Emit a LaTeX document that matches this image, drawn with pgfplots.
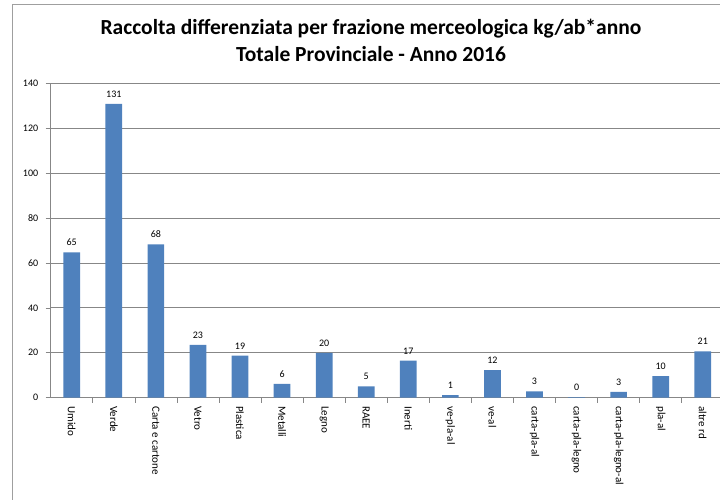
\documentclass[border=0pt]{standalone}
\usepackage{pgfplots}
\usepackage{pgfplotstable}
\pgfplotsset{compat=1.18}
\usepackage{fontspec}
\setmainfont{Carlito}
\definecolor{barblue}{HTML}{4F81BD}
\definecolor{gridgray}{HTML}{878787}

\pgfplotstableread{
x y lab
0 64.7 65
1 130.8 131
2 68.3 68
3 23.5 23
4 18.7 19
5 6.1 6
6 20.0 20
7 5.0 5
8 16.5 17
9 1.2 1
10 12.3 12
11 2.8 3
12 0.2 0
13 2.6 3
14 9.6 10
15 20.6 21
}\datatable

\begin{document}
\begin{tikzpicture}[x=1pt,y=1pt]
\useasboundingbox (0,0) rectangle (720,500);
\clip (0,0) rectangle (720,500);
\draw[gridgray!80, line width=0.9pt] (12.5,-20) rectangle (760,496);
% title, two lines
\node[font=\fontsize{21.5}{25}\selectfont\bfseries, anchor=base] at (371,465)
  {Raccolta differenziata per frazione merceologica kg/ab*anno};
\node[font=\fontsize{21.5}{25}\selectfont\bfseries, anchor=base] at (371,438.5)
  {Totale Provinciale - Anno 2016};
\begin{axis}[
    at={(50.7pt,102.3pt)}, anchor=south west,
    scale only axis,
    width=673.1pt, height=314.4pt,
    xmin=-0.5, xmax=15.5,
    ymin=0, ymax=140,
    ytick={0,20,...,140},
    xtick={0,...,15},
    xticklabels={Umido,Verde,{Carta e cartone},Vetro,Plastica,Metalli,Legno,RAEE,Inerti,ve-pla-al,ve-al,carta-pla-al,carta-pla-legno,carta-pla-legno-al,pla-al,altre rd},
    minor xtick={0.5,1.5,...,14.5},
    axis lines*=left,
    axis line style={draw=gridgray, line width=0.8pt, -},
    ymajorgrids,
    grid style={draw=gridgray, line width=0.8pt},
    tick align=outside,
    major tick length=5pt,
    minor tick length=5pt,
    major x tick style={draw=none},
    minor x tick style={draw=gridgray, line width=0.6pt},
    ytick style={draw=gridgray, line width=0.6pt},
    tick label style={font=\fontsize{10}{12}\selectfont},
    /pgf/number format/assume math mode=true,
    xticklabel style={font=\fontsize{11}{13}\selectfont, anchor=west, rotate=-90},
    yticklabel style={xshift=-4pt},
    ybar, bar width=16.7pt,
    nodes near coords,
    point meta=explicit symbolic,
    nodes near coords style={font=\fontsize{10}{12}\selectfont, anchor=south, yshift=3pt},
]
\addplot[fill=barblue, draw=none] table[x=x, y=y, meta=lab] {\datatable};
\end{axis}
\end{tikzpicture}
\end{document}
